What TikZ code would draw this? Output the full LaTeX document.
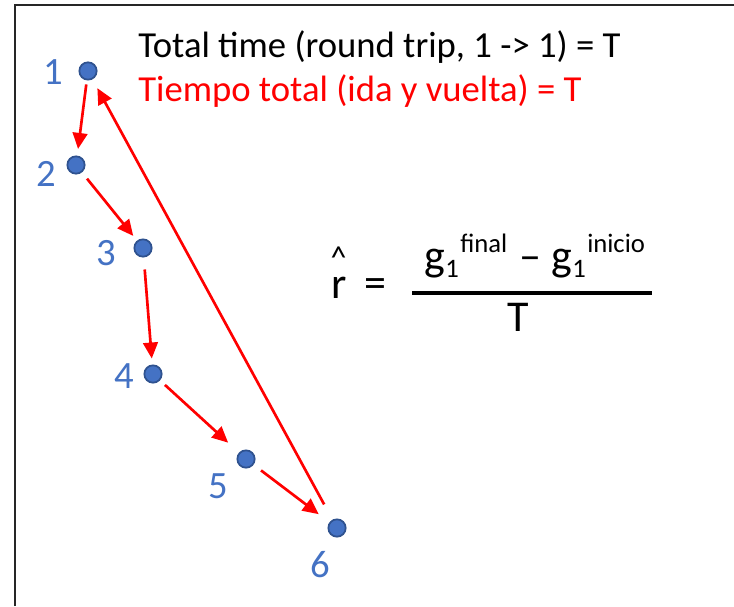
\documentclass[tikz,border=0pt]{standalone}
\usepackage{fontspec}
\setmainfont{Carlito}
\usetikzlibrary{arrows.meta}
\definecolor{numblue}{RGB}{68,114,196}
\definecolor{dotedge}{RGB}{47,82,143}
\begin{document}
\begin{tikzpicture}[x=0.75pt,y=-0.75pt,
  dot/.style={circle,fill=numblue,draw=dotedge,line width=1.3pt,minimum size=13pt,inner sep=0pt},
  num/.style={text=numblue,font=\fontsize{29}{29}\selectfont,anchor=base,inner sep=0pt},
  arr/.style={draw=red,line width=2pt,-{Triangle[length=12pt,width=11pt]}},
  txt/.style={anchor=base west,inner sep=0pt,font=\fontsize{27.5}{27.5}\selectfont},
  big/.style={inner sep=0pt,font=\fontsize{33}{33}\selectfont},
  sub/.style={anchor=base west,inner sep=0pt,font=\fontsize{20}{20}\selectfont},
  sup/.style={anchor=base west,inner sep=0pt,font=\fontsize{20}{20}\selectfont}]
\useasboundingbox (0,0) rectangle (734,606);
\draw[line width=1.5pt,black!85] (15,606) -- (15,5) -- (734,5);
% dots
\node[dot] (n1) at (88,71) {};
\node[dot] (n2) at (76,165) {};
\node[dot] (n3) at (143,248) {};
\node[dot] (n4) at (153,374) {};
\node[dot] (n5) at (246,459) {};
\node[dot] (n6) at (337,528) {};
% labels
\node[num] (l1) at (53,85) {1};
\node[num] (l2) at (46,186) {2};
\node[num] (l3) at (106,265) {3};
\node[num] (l4) at (124,388) {4};
\node[num] (l5) at (218,498) {5};
\node[num] (l6) at (320,577) {6};
% arrows
\draw[arr,shorten <=3pt,shorten >=5pt] (n1) -- (n2);
\draw[arr,shorten <=6pt,shorten >=4.5pt] (n2) -- (n3);
\draw[arr,shorten <=9pt,shorten >=4.5pt] (n3) -- (n4);
\draw[arr,shorten <=5pt,shorten >=11pt] (n4) -- (n5);
\draw[arr,shorten <=7pt,shorten >=10pt] (n5) -- (n6);
\draw[arr,shorten <=13pt,shorten >=7.5pt] (n6) -- (n1);
% titles
\node[txt] (t1) at (138,58) {Total time (round trip, 1 -> 1) = T};
\node[txt,text=red] (t2) at (138,102) {Tiempo total (ida y vuelta) = T};
% formula
\node[big,anchor=base] (r) at (339,298) {\rlap{\hspace{-0.5pt}\raisebox{22pt}{\fontsize{24}{24}\selectfont\textasciicircum}}r};
\node[big] (eq) at (375,288) {=};
\node[big,anchor=base west] (g1) at (424,270) {g};
\node[sub] (s1) at (445,277) {1};
\node[sup] (fin) at (460,252) {final};
\node[big] (minus) at (530,264) {–};
\node[big,anchor=base west] (g2) at (551,270) {g};
\node[sub] (s2) at (572,277) {1};
\node[sup] (ini) at (587,252) {inicio};
\draw[line width=2.4pt] (412,293) coordinate (b1) -- (652,293) coordinate (b2);
\node[big,anchor=base] (T) at (518,331) {T};
\end{tikzpicture}
\end{document}
